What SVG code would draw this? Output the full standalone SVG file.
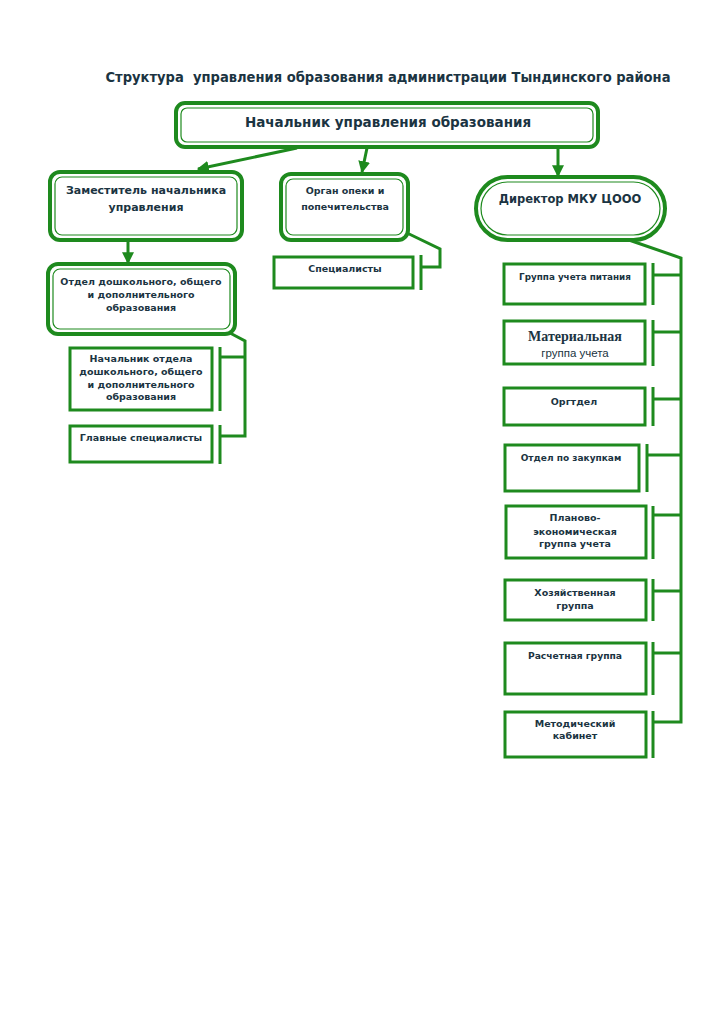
<svg xmlns="http://www.w3.org/2000/svg" width="724" height="1024" viewBox="0 0 724 1024">
<style>
.o{fill:#fff;stroke:#1e8a1e;stroke-width:4}
.i{fill:none;stroke:#1e8a1e;stroke-width:1.2}
.b{fill:#fff;stroke:#1e8a1e;stroke-width:3}
.c{fill:none;stroke:#1e8a1e;stroke-width:3}
.t{font-family:"DejaVu Sans",Verdana,sans-serif;font-weight:bold;fill:#1b3442;text-anchor:middle}
.pre{white-space:pre}
</style>
<defs>
<marker id="ah" viewBox="0 0 10 10" refX="9" refY="5" markerWidth="4" markerHeight="4" orient="auto" markerUnits="strokeWidth">
<path d="M0,0 L10,5 L0,10 z" fill="#1e8a1e"/>
</marker>
</defs>
<rect width="724" height="1024" fill="#fff"/>
<text x="388" y="82" class="t pre" font-size="14" textLength="565" lengthAdjust="spacingAndGlyphs" xml:space="preserve">Структура  управления образования администрации Тындинского района</text>

<g id="connectors">
<line class="c" x1="297" y1="148" x2="198" y2="169" marker-end="url(#ah)"/>
<line class="c" x1="367" y1="148" x2="362" y2="172" marker-end="url(#ah)"/>
<line class="c" x1="558" y1="148" x2="558" y2="176" marker-end="url(#ah)"/>
<line class="c" x1="128" y1="241" x2="128" y2="263" marker-end="url(#ah)"/>
<polyline class="c" points="405,232 440,249 440,267 421,267"/>
<line class="c" x1="421" y1="255" x2="421" y2="290"/>
<polyline class="c" points="230,333 245,341 245,436 220,436"/>
<line class="c" x1="220" y1="357" x2="245" y2="357"/>
<line class="c" x1="220" y1="347" x2="220" y2="411"/>
<line class="c" x1="220" y1="425" x2="220" y2="464"/>
<polyline class="c" points="626,239 681,258 681,722 653,722"/>
<line class="c" x1="653" y1="275" x2="681" y2="275"/>
<line class="c" x1="653" y1="332" x2="681" y2="332"/>
<line class="c" x1="653" y1="399" x2="681" y2="399"/>
<line class="c" x1="647" y1="455" x2="681" y2="455"/>
<line class="c" x1="653" y1="515" x2="681" y2="515"/>
<line class="c" x1="653" y1="591" x2="681" y2="591"/>
<line class="c" x1="653" y1="653" x2="681" y2="653"/>
<line class="c" x1="653" y1="263" x2="653" y2="305"/>
<line class="c" x1="653" y1="320" x2="653" y2="366"/>
<line class="c" x1="653" y1="387" x2="653" y2="426"/>
<line class="c" x1="647" y1="444" x2="647" y2="492"/>
<line class="c" x1="653" y1="506" x2="653" y2="559"/>
<line class="c" x1="653" y1="579" x2="653" y2="621"/>
<line class="c" x1="653" y1="642" x2="653" y2="695"/>
<line class="c" x1="653" y1="711" x2="653" y2="758"/>
</g>

<g id="n-head">
<rect class="o" x="176" y="103" width="422" height="44" rx="9"/>
<rect class="i" x="181" y="108" width="412" height="34" rx="6"/>
<text class="t" x="388" y="127" font-size="13.5">Начальник управления образования</text>
</g>

<g id="n-deputy">
<rect class="o" x="50" y="172" width="192" height="68" rx="10"/>
<rect class="i" x="55" y="177" width="182" height="58" rx="7"/>
<text class="t" x="146" y="194" font-size="11">Заместитель начальника</text>
<text class="t" x="146" y="211" font-size="11">управления</text>
</g>

<g id="n-opeka">
<rect class="o" x="281" y="174" width="127" height="66" rx="10"/>
<rect class="i" x="286" y="179" width="117" height="56" rx="7"/>
<text class="t" x="345" y="194" font-size="9.5">Орган опеки и</text>
<text class="t" x="345" y="210" font-size="9.5">попечительства</text>
</g>

<g id="n-spec">
<rect class="b" x="274" y="257" width="139" height="31"/>
<text class="t" x="345" y="272" font-size="9.5">Специалисты</text>
</g>

<g id="n-director">
<rect class="o" x="476" y="177" width="189" height="63" rx="31.5"/>
<rect class="i" x="481" y="182" width="179" height="53" rx="26.5"/>
<text class="t" x="570" y="203" font-size="11.5">Директор МКУ ЦООО</text>
</g>

<g id="n-otdel">
<rect class="o" x="48" y="264" width="187" height="70" rx="10"/>
<rect class="i" x="53" y="269" width="177" height="60" rx="7"/>
<text class="t" x="141" y="285" font-size="9.5">Отдел дошкольного, общего</text>
<text class="t" x="141" y="298" font-size="9.5">и дополнительного</text>
<text class="t" x="141" y="311" font-size="9.5">образования</text>
</g>

<g id="n-nach-otdel">
<rect class="b" x="70" y="348" width="142" height="62"/>
<text class="t" x="141" y="362" font-size="9.5">Начальник отдела</text>
<text class="t" x="141" y="375" font-size="9.5">дошкольного, общего</text>
<text class="t" x="141" y="388" font-size="9.5">и дополнительного</text>
<text class="t" x="141" y="400" font-size="9.5">образования</text>
</g>

<g id="n-glav">
<rect class="b" x="70" y="426" width="142" height="36"/>
<text class="t" x="141" y="441" font-size="9.5">Главные специалисты</text>
</g>

<g id="n-pitanie">
<rect class="b" x="504" y="264" width="141" height="40"/>
<text class="t" x="575" y="280" font-size="8.8">Группа учета питания</text>
</g>

<g id="n-material">
<rect class="b" x="504" y="321" width="141" height="43"/>
<text x="575" y="341" font-family="Liberation Serif,Times New Roman,serif" font-weight="bold" font-size="14" fill="#1b3442" text-anchor="middle">Материальная</text>
<text x="575" y="357" font-family="Liberation Sans,Arial,sans-serif" font-size="11.5" fill="#1b3442" text-anchor="middle">группа учета</text>
</g>

<g id="n-orgotdel">
<rect class="b" x="504" y="388" width="141" height="37"/>
<text class="t" x="574" y="405" font-size="9.5">Оргтдел</text>
</g>

<g id="n-zakupki">
<rect class="b" x="505" y="445" width="134" height="46"/>
<text class="t" x="571" y="461" font-size="9">Отдел по закупкам</text>
</g>

<g id="n-plan">
<rect class="b" x="506" y="506" width="140" height="52"/>
<text class="t" x="575" y="521" font-size="9.5">Планово-</text>
<text class="t" x="575" y="535" font-size="9.5">экономическая</text>
<text class="t" x="575" y="547" font-size="9.5">группа учета</text>
</g>

<g id="n-hoz">
<rect class="b" x="505" y="580" width="141" height="40"/>
<text class="t" x="575" y="596" font-size="9.5">Хозяйственная</text>
<text class="t" x="575" y="609" font-size="9.5">группа</text>
</g>

<g id="n-raschet">
<rect class="b" x="505" y="643" width="141" height="51"/>
<text class="t" x="575" y="659" font-size="9.2">Расчетная группа</text>
</g>

<g id="n-metod">
<rect class="b" x="505" y="712" width="141" height="45"/>
<text class="t" x="575" y="727" font-size="9.5">Методический</text>
<text class="t" x="575" y="739" font-size="9.5">кабинет</text>
</g>
</svg>
